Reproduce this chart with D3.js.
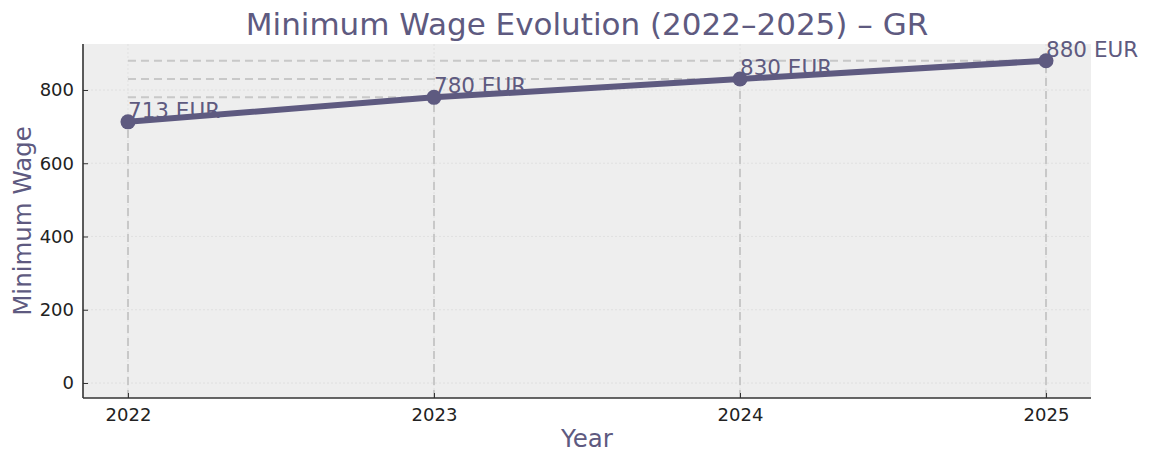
<!DOCTYPE html>
<html>
<head>
<meta charset="utf-8">
<script src="https://cdn.jsdelivr.net/npm/d3@7"></script>
<style>
  body { margin: 0; background: #fff; }
  text { font-family: "DejaVu Sans", sans-serif; }
</style>
</head>
<body>
<div id="chart"></div>
<script>
// data
var years = [2022, 2023, 2024, 2025];
var wages = [713, 780, 830, 880];
var yTicks = [0, 200, 400, 600, 800];
var currency = "EUR";

var W = 1150, H = 464;
var margin = {left: 83, right: 59, top: 44, bottom: 66};
var width = W - margin.left - margin.right, height = H - margin.top - margin.bottom;
var ink = "#5e5a80";

var svg = d3.select("#chart").append("svg")
  .attr("width", W).attr("height", H);

var g = svg.append("g")
  .attr("transform", "translate(" + margin.left + "," + margin.top + ")");

var x = d3.scaleLinear().domain([2021.853, 2025.147]).range([0, width]);
var y = d3.scaleLinear().domain([-41, 925.6]).range([height, 0]);

var data = years.map(function(d, i){ return {year: d, wage: wages[i]}; });

g.append("rect").attr("width", width).attr("height", height).attr("fill", "#eeeeee");

// grid
g.selectAll(".gy").data(yTicks).enter().append("line")
  .attr("x1", 0).attr("x2", width)
  .attr("y1", function(d){ return y(d); }).attr("y2", function(d){ return y(d); })
  .attr("stroke", "#dddddd").attr("stroke-width", 0.8).attr("stroke-dasharray", "2,2");
g.selectAll(".gx").data(years).enter().append("line")
  .attr("y1", 0).attr("y2", height)
  .attr("x1", function(d){ return x(d); }).attr("x2", function(d){ return x(d); })
  .attr("stroke", "#dddddd").attr("stroke-width", 0.8).attr("stroke-dasharray", "2,2");

// guide lines
g.selectAll(".vg").data(data).enter().append("line")
  .attr("x1", function(d){ return x(d.year); }).attr("x2", function(d){ return x(d.year); })
  .attr("y1", height).attr("y2", function(d){ return y(d.wage); })
  .attr("stroke", "#c8c8c8").attr("stroke-width", 2).attr("stroke-dasharray", "8,5");
g.selectAll(".hg").data(data).enter().append("line")
  .attr("x1", x(years[0])).attr("x2", function(d){ return x(d.year); })
  .attr("y1", function(d){ return y(d.wage); }).attr("y2", function(d){ return y(d.wage); })
  .attr("stroke", "#c8c8c8").attr("stroke-width", 2).attr("stroke-dasharray", "8,5");

// line + points
g.append("path").datum(data)
  .attr("d", d3.line().x(function(d){ return x(d.year); }).y(function(d){ return y(d.wage); }))
  .attr("fill", "none").attr("stroke", ink).attr("stroke-width", 6).attr("stroke-linejoin", "round");
g.selectAll(".pt").data(data).enter().append("circle")
  .attr("cx", function(d){ return x(d.year); }).attr("cy", function(d){ return y(d.wage); })
  .attr("r", 7.5).attr("fill", ink);

g.selectAll(".lbl").data(data).enter().append("text")
  .attr("x", function(d){ return x(d.year); })
  .attr("y", function(d){ return y(d.wage) - 4; })
  .attr("font-size", 21.5).attr("fill", ink)
  .text(function(d){ return d.wage + " " + currency; });

// axes
var yAxis = d3.axisLeft(y).tickValues(yTicks).tickSizeInner(-5).tickSizeOuter(0).tickPadding(9);
var xAxis = d3.axisBottom(x).tickValues(years).tickFormat(d3.format("d")).tickSizeInner(-5).tickSizeOuter(0).tickPadding(10);

var ya = g.append("g").call(yAxis);
var xa = g.append("g").attr("transform", "translate(0," + height + ")").call(xAxis);
[ya, xa].forEach(function(a){
  a.select(".domain").attr("stroke", "#333").attr("stroke-width", 1.6);
  a.selectAll(".tick line").attr("stroke", "#333");
  a.selectAll(".tick text").attr("font-size", 18).attr("fill", "#222").attr("font-family", "DejaVu Sans");
});
// only left and bottom spines
ya.select(".domain").attr("d", "M0," + height + "V0");
xa.select(".domain").attr("d", "M0,0H" + width);

// titles
svg.append("text").attr("x", margin.left + width / 2).attr("y", 35)
  .attr("text-anchor", "middle").attr("font-size", 31).attr("fill", ink)
  .text("Minimum Wage Evolution (2022\u20132025) \u2013 GR");
svg.append("text").attr("x", margin.left + width / 2).attr("y", 447)
  .attr("text-anchor", "middle").attr("font-size", 24.5).attr("fill", ink)
  .text("Year");
svg.append("text").attr("transform", "translate(31," + (margin.top + height / 2) + ") rotate(-90)")
  .attr("text-anchor", "middle").attr("font-size", 24.5).attr("fill", ink)
  .text("Minimum Wage");
</script>
</body>
</html>
